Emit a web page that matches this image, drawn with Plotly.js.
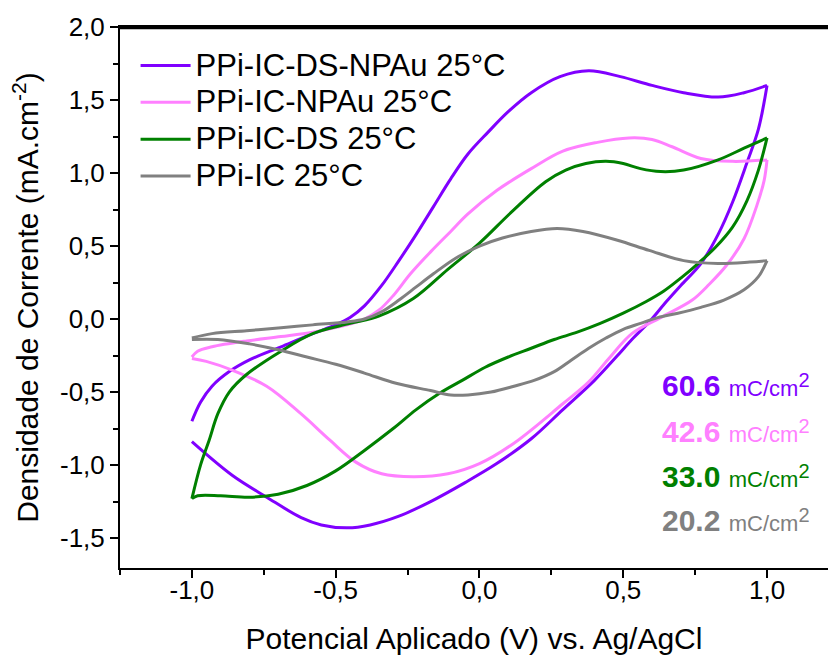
<!DOCTYPE html>
<html>
<head>
<meta charset="utf-8">
<script src="https://cdn.plot.ly/plotly-3.0.1.min.js"></script>
<style>html,body{margin:0;padding:0;background:#fff;overflow:hidden}</style>
</head>
<body>
<div id="chart" style="width:828px;height:655px"></div>
<script>
// ---- data ----
const seriesNames = ['PPi-IC-DS-NPAu 25°C', 'PPi-IC-NPAu 25°C', 'PPi-IC-DS 25°C', 'PPi-IC 25°C'];
const seriesColors = ['#8000FF', '#FF80FF', '#008000', '#808080'];
const chargeValues = ['60.6', '42.6', '33.0', '20.2'];
const chargeUnit = 'mC/cm';

// PPi-IC-DS-NPAu
const dsnpAnodicX = [-1.0,-0.97,-0.93,-0.87,-0.80,-0.69,-0.58,-0.50,-0.45,-0.40,-0.34,-0.28,-0.22,-0.16,-0.10,-0.04,0.03,0.10,0.18,0.28,0.38,0.49,0.60,0.71,0.83,0.92,1.0];
const dsnpAnodicY = [-0.70,-0.57,-0.46,-0.36,-0.28,-0.19,-0.10,-0.04,0.01,0.09,0.23,0.40,0.58,0.77,0.96,1.13,1.28,1.42,1.55,1.66,1.70,1.66,1.60,1.55,1.52,1.55,1.60];
const dsnpCathodicX = [1.0,0.97,0.93,0.88,0.83,0.77,0.70,0.65,0.59,0.53,0.48,0.40,0.29,0.18,0.06,-0.05,-0.17,-0.28,-0.38,-0.46,-0.55,-0.62,-0.74,-0.86,-1.0];
const dsnpCathodicY = [1.60,1.30,1.07,0.80,0.58,0.38,0.23,0.12,-0.02,-0.14,-0.25,-0.42,-0.62,-0.82,-0.99,-1.12,-1.25,-1.35,-1.41,-1.43,-1.41,-1.36,-1.22,-1.07,-0.84];

// PPi-IC-NPAu
const npAnodicX = [-1.0,-0.98,-0.93,-0.81,-0.69,-0.58,-0.46,-0.40,-0.35,-0.30,-0.24,-0.17,-0.10,-0.04,0.06,0.18,0.29,0.41,0.52,0.60,0.67,0.77,0.88,1.0];
const npAnodicY = [-0.26,-0.22,-0.19,-0.15,-0.12,-0.09,-0.04,0.0,0.06,0.16,0.31,0.46,0.60,0.72,0.88,1.03,1.15,1.21,1.24,1.23,1.18,1.10,1.08,1.09];
const npCathodicX = [1.0,0.99,0.965,0.92,0.86,0.80,0.74,0.63,0.53,0.45,0.38,0.29,0.12,0.0,-0.11,-0.23,-0.34,-0.43,-0.52,-0.62,-0.74,-0.86,-0.95,-1.0];
const npCathodicY = [1.09,0.95,0.78,0.55,0.37,0.24,0.13,0.01,-0.10,-0.27,-0.43,-0.58,-0.85,-0.99,-1.06,-1.08,-1.06,-0.98,-0.83,-0.65,-0.46,-0.35,-0.29,-0.27];

// PPi-IC-DS
const dsAnodicX = [-1.0,-0.97,-0.94,-0.91,-0.87,-0.81,-0.69,-0.58,-0.45,-0.35,-0.23,-0.11,0.0,0.11,0.23,0.30,0.37,0.44,0.50,0.56,0.63,0.71,0.83,0.92,1.0];
const dsAnodicY = [-1.23,-1.0,-0.83,-0.65,-0.50,-0.38,-0.22,-0.10,-0.03,0.02,0.14,0.34,0.52,0.73,0.94,1.02,1.065,1.08,1.065,1.03,1.01,1.02,1.09,1.17,1.24];
const dsCathodicX = [1.0,0.97,0.93,0.88,0.82,0.76,0.70,0.64,0.58,0.50,0.42,0.34,0.26,0.18,0.10,0.02,-0.06,-0.14,-0.22,-0.30,-0.40,-0.50,-0.60,-0.70,-0.80,-0.90,-0.98,-1.0];
const dsCathodicY = [1.24,1.02,0.81,0.63,0.49,0.38,0.28,0.19,0.12,0.04,-0.03,-0.09,-0.14,-0.20,-0.26,-0.33,-0.42,-0.51,-0.62,-0.75,-0.90,-1.04,-1.14,-1.20,-1.22,-1.21,-1.21,-1.23];

// PPi-IC
const icAnodicX = [-1.0,-0.93,-0.81,-0.69,-0.58,-0.46,-0.40,-0.34,-0.28,-0.22,-0.16,-0.08,0.0,0.08,0.18,0.27,0.36,0.48,0.59,0.71,0.83,0.94,1.0];
const icAnodicY = [-0.13,-0.10,-0.08,-0.06,-0.04,-0.02,0.0,0.05,0.13,0.22,0.31,0.42,0.50,0.555,0.60,0.62,0.60,0.54,0.47,0.40,0.38,0.39,0.40];
const icCathodicX = [1.0,0.97,0.92,0.85,0.77,0.69,0.62,0.56,0.50,0.44,0.38,0.32,0.26,0.19,0.12,0.04,-0.04,-0.10,-0.17,-0.29,-0.40,-0.50,-0.60,-0.70,-0.80,-0.91,-1.0];
const icCathodicY = [0.40,0.29,0.20,0.13,0.08,0.04,0.01,-0.03,-0.07,-0.13,-0.20,-0.28,-0.36,-0.42,-0.46,-0.50,-0.52,-0.52,-0.49,-0.44,-0.37,-0.31,-0.26,-0.21,-0.17,-0.14,-0.14];

const xTickVals = [-1.0, -0.5, 0.0, 0.5, 1.0];
const xTickText = ['-1,0', '-0,5', '0,0', '0,5', '1,0'];
const yTickVals = [-1.5, -1.0, -0.5, 0.0, 0.5, 1.0, 1.5, 2.0];
const yTickText = ['-1,5', '-1,0', '-0,5', '0,0', '0,5', '1,0', '1,5', '2,0'];

// ---- build traces ----
const branches = [
  [dsnpAnodicX, dsnpAnodicY, dsnpCathodicX, dsnpCathodicY],
  [npAnodicX, npAnodicY, npCathodicX, npCathodicY],
  [dsAnodicX, dsAnodicY, dsCathodicX, dsCathodicY],
  [icAnodicX, icAnodicY, icCathodicX, icCathodicY]
];
const traces = [];
branches.forEach((b, i) => {
  const common = {
    type: 'scatter', mode: 'lines', legendgroup: 'g' + i,
    line: {color: seriesColors[i], width: 3, shape: 'spline', smoothing: 1},
    hoverinfo: 'skip'
  };
  traces.push(Object.assign({}, common, {x: b[0], y: b[1], showlegend: true,
    name: '<span style="font-size:31px">' + seriesNames[i] + '</span>'}));
  traces.push(Object.assign({}, common, {x: b[2], y: b[3], showlegend: false, name: seriesNames[i]}));
});

const annY = [0.338, 0.253, 0.170, 0.087];
const annotations = chargeValues.map((v, i) => ({
  xref: 'paper', yref: 'paper', x: 0.977, y: annY[i], xanchor: 'right', yanchor: 'middle',
  showarrow: false,
  text: '<b>' + v + '</b> <span style="font-size:22px">' + chargeUnit + '<sup><span style="font-size:20px">2</span></sup></span>',
  font: {size: 30, color: seriesColors[i], family: 'Liberation Sans, Arial, sans-serif'}
}));

const axisCommon = {
  showline: true, linewidth: 2, linecolor: '#000', showgrid: false, zeroline: false,
  ticks: 'outside', ticklen: 8, tickwidth: 2, tickcolor: '#000',
  tickfont: {size: 26, color: '#000'}
};

const layout = {
  width: 828, height: 655,
  margin: {l: 120, r: 0, t: 27, b: 87},
  paper_bgcolor: '#fff', plot_bgcolor: '#fff',
  font: {family: 'Liberation Sans, Arial, sans-serif', color: '#000'},
  showlegend: true,
  legend: {x: 0.022, y: 0.972, xanchor: 'left', yanchor: 'top', bgcolor: 'rgba(0,0,0,0)',
           font: {size: 26}, tracegroupgap: 0, itemwidth: 50},
  xaxis: Object.assign({}, axisCommon, {
    range: [-1.25, 1.212], tickmode: 'array', tickvals: xTickVals, ticktext: xTickText,
    mirror: true, ticklabelstandoff: -10,
    minor: {ticks: 'outside', ticklen: 5, tickwidth: 2, tickcolor: '#000', tickmode: 'linear', tick0: 0, dtick: 0.25, showgrid: false},
    title: {text: 'Potencial Aplicado (V) vs. Ag/AgCl', font: {size: 30}, standoff: 24},
    automargin: false
  }),
  yaxis: Object.assign({}, axisCommon, {
    range: [-1.705, 2.0], tickmode: 'array', tickvals: yTickVals, ticktext: yTickText,
    minor: {ticks: 'outside', ticklen: 5, tickwidth: 2, tickcolor: '#000', tickmode: 'linear', tick0: 0, dtick: 0.25, showgrid: false},
    title: {text: 'Densidade de Corrente (mA.cm<sup>-2</sup>)', font: {size: 30}, standoff: 12},
    automargin: false
  }),
  shapes: [
    {type: 'line', xref: 'paper', yref: 'paper', x0: 0, x1: 1, y0: 0.998, y1: 0.998,
     line: {color: '#000000', width: 2.5}, layer: 'above'}
  ],
  annotations: annotations
};

Plotly.newPlot('chart', traces, layout, {displayModeBar: false, staticPlot: true});
</script>
</body>
</html>
